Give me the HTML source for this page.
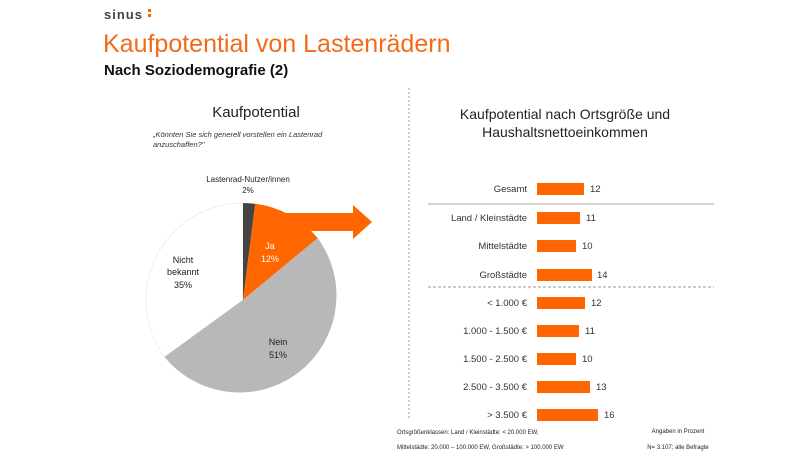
<!DOCTYPE html>
<html><head><meta charset="utf-8"><style>
body{margin:0;background:#fff;}
svg text{font-family:"Liberation Sans",sans-serif;}
</style></head><body>
<svg width="810" height="456" viewBox="0 0 810 456" xmlns="http://www.w3.org/2000/svg">
<text x="104" y="19" font-size="13" font-weight="bold" fill="#444" letter-spacing="1">sinus</text>
<rect x="148" y="9" width="3" height="3" fill="#f60"/><rect x="148" y="14" width="3" height="3" fill="#f60"/>
<text x="103" y="52" font-size="25" fill="#f26a1b">Kaufpotential von Lastenrädern</text>
<text x="104" y="75" font-size="15" font-weight="bold" fill="#111">Nach Soziodemografie (2)</text>
<line x1="409" y1="88" x2="409" y2="420" stroke="#999" stroke-dasharray="2,2"/>
<text x="256" y="117" font-size="15" fill="#222" text-anchor="middle">Kaufpotential</text>
<text x="153" y="137" font-size="7.5" font-style="italic" fill="#333">„Könnten Sie sich generell vorstellen ein Lastenrad</text>
<text x="153" y="147" font-size="7.5" font-style="italic" fill="#333">anzuschaffen?"</text>
<path d="M243,300 L164.5,357.0 A97,97 0 0 1 243,203 Z" fill="#fff" stroke="#ccc" stroke-width="0.6" stroke-dasharray="1,1"/>
<path d="M243,300 L243,203 A97,97 0 0 1 255.2,203.8 Z" fill="#444"/>
<path d="M243,300 L255.2,203.8 A97,97 0 0 1 317.7,238.1 Z" fill="#ff6600"/>
<path d="M243,300 L317.7,238.1 A97,97 0 0 1 164.5,357.0 Z" fill="#b8b8b8"/>
<polygon points="282,213 353,213 353,205 372,222 353,239 353,231 282,231" fill="#ff6600"/>
<text x="248" y="182" font-size="8" fill="#222" text-anchor="middle">Lastenrad-Nutzer/innen</text>
<text x="248" y="193" font-size="8" fill="#222" text-anchor="middle">2%</text>
<text x="270" y="249" font-size="9" fill="#fff" text-anchor="middle">Ja</text>
<text x="270" y="262" font-size="9" fill="#fff" text-anchor="middle">12%</text>
<text x="183" y="263" font-size="9" fill="#222" text-anchor="middle">Nicht</text>
<text x="183" y="275" font-size="9" fill="#222" text-anchor="middle">bekannt</text>
<text x="183" y="288" font-size="9" fill="#222" text-anchor="middle">35%</text>
<text x="278" y="345" font-size="9" fill="#222" text-anchor="middle">Nein</text>
<text x="278" y="358" font-size="9" fill="#222" text-anchor="middle">51%</text>
<text x="565" y="119" font-size="14" fill="#222" text-anchor="middle">Kaufpotential nach Ortsgröße und</text>
<text x="565" y="137" font-size="14" fill="#222" text-anchor="middle">Haushaltsnettoeinkommen</text>
<line x1="428" y1="204" x2="714" y2="204" stroke="#bbb" stroke-width="1.2"/>
<line x1="428" y1="287" x2="714" y2="287" stroke="#999" stroke-dasharray="3,2"/>
<g font-size="9.5" fill="#333">
<text x="527" y="192" text-anchor="end">Gesamt</text><rect x="537" y="183" width="47" height="12" fill="#ff6600"/><text x="590" y="192">12</text>
<text x="527" y="221" text-anchor="end">Land / Kleinstädte</text><rect x="537" y="212" width="43" height="12" fill="#ff6600"/><text x="586" y="221">11</text>
<text x="527" y="249" text-anchor="end">Mittelstädte</text><rect x="537" y="240" width="39" height="12" fill="#ff6600"/><text x="582" y="249">10</text>
<text x="527" y="278" text-anchor="end">Großstädte</text><rect x="537" y="269" width="55" height="12" fill="#ff6600"/><text x="597" y="278">14</text>
<text x="527" y="306" text-anchor="end">&lt; 1.000 €</text><rect x="537" y="297" width="48" height="12" fill="#ff6600"/><text x="591" y="306">12</text>
<text x="527" y="334" text-anchor="end">1.000 - 1.500 €</text><rect x="537" y="325" width="42" height="12" fill="#ff6600"/><text x="585" y="334">11</text>
<text x="527" y="362" text-anchor="end">1.500 - 2.500 €</text><rect x="537" y="353" width="39" height="12" fill="#ff6600"/><text x="582" y="362">10</text>
<text x="527" y="390" text-anchor="end">2.500 - 3.500 €</text><rect x="537" y="381" width="53" height="12" fill="#ff6600"/><text x="596" y="390">13</text>
<text x="527" y="418" text-anchor="end">&gt; 3.500 €</text><rect x="537" y="409" width="61" height="12" fill="#ff6600"/><text x="604" y="418">16</text>
</g>
<text x="397" y="434" font-size="6" fill="#222">Ortsgrößenklassen: Land / Kleinstädte: &lt; 20.000 EW,</text>
<text x="397" y="449" font-size="6" fill="#222">Mittelstädte: 20.000 – 100.000 EW, Großstädte: &gt; 100.000 EW</text>
<text x="678" y="433" font-size="6" fill="#222" text-anchor="middle">Angaben in Prozent</text>
<text x="678" y="449" font-size="6" fill="#222" text-anchor="middle">N= 3.107; alle Befragte</text>
</svg>
</body></html>
